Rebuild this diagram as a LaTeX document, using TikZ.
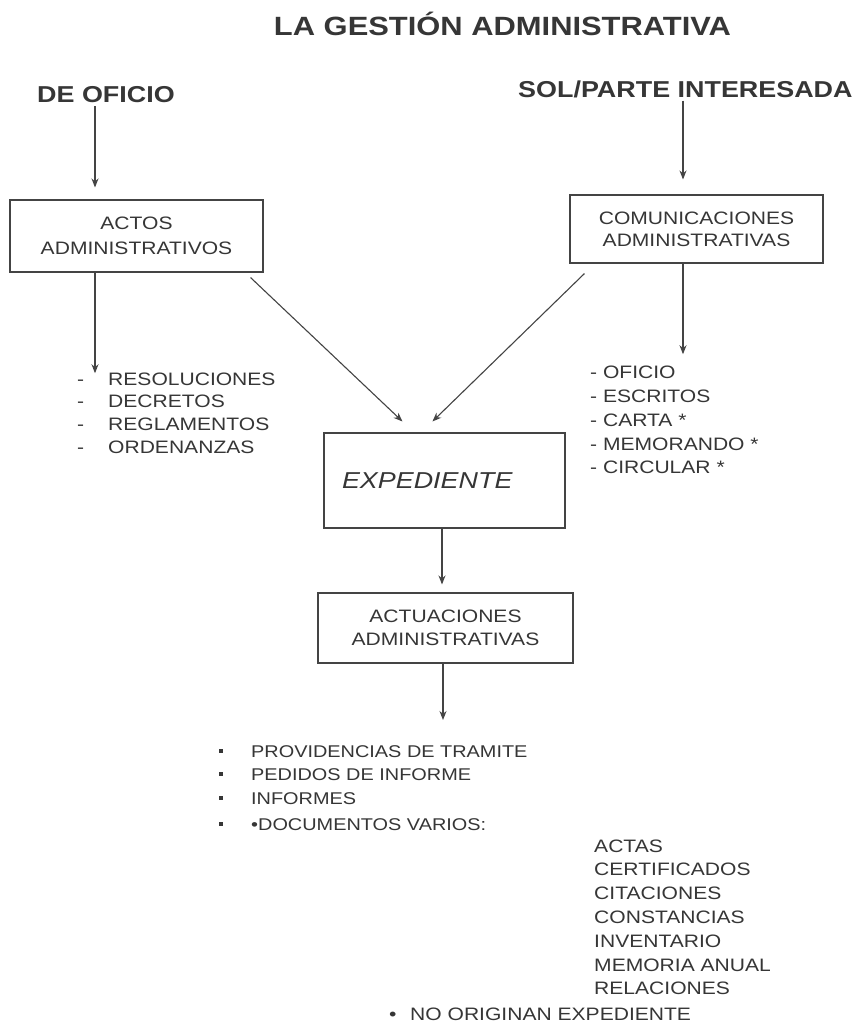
\documentclass[tikz,border=0pt]{standalone}
\usepackage{fontspec}
\newfontfamily\scanfont[FakeStretch=1.17]{Liberation Sans}
\usetikzlibrary{arrows.meta,calc}
\definecolor{ink}{HTML}{363636}
\definecolor{rulec}{HTML}{444444}
\begin{document}
\begin{tikzpicture}[x=1pt,y=-1pt,
  txt/.style={font=\scanfont\fontsize{18}{22}\selectfont, text=ink, inner sep=0pt, anchor=base west},
  small/.style={font=\scanfont\fontsize{17}{22}\selectfont, text=ink, inner sep=0pt, anchor=base west},
  head/.style={font=\scanfont\bfseries\fontsize{23}{28}\selectfont, text=ink, inner sep=0pt, anchor=base west},
  boxnode/.style={draw=rulec, line width=1.1pt, inner sep=0pt, align=center, text=ink},
  arr/.style={draw=rulec, line width=1.1pt, -{Stealth[length=9pt,width=7pt]}},
  sq/.style={fill=ink, minimum size=4.5pt, inner sep=0pt}
]
\fill[white] (0,0) rectangle (860,1028);
\useasboundingbox (0,0) rectangle (860,1028);

% title and headings
\node[font=\scanfont\bfseries\fontsize{26.4}{30}\selectfont, text=ink, inner sep=0pt, anchor=base] (title) at (502.5,35) {LA GESTIÓN ADMINISTRATIVA};
\node[head] (deof) at (37,102) {DE OFICIO};
\node[head] (sol) at (518,97) {SOL/PARTE INTERESADA};

% boxes
\node[boxnode, minimum width=253pt, minimum height=72pt, font=\scanfont\fontsize{18}{25}\selectfont] (actos) at (136.5,236) {ACTOS\\ADMINISTRATIVOS};
\node[boxnode, minimum width=253pt, minimum height=68pt, font=\scanfont\fontsize{18}{22}\selectfont] (com) at (696.5,229) {COMUNICACIONES\\ADMINISTRATIVAS};
\node[boxnode, minimum width=241pt, minimum height=95pt, text width=205pt, align=left, inner xsep=18pt, font=\scanfont\itshape\fontsize{23}{28}\selectfont] (exp) at (444.5,480.5) {EXPEDIENTE};
\node[boxnode, minimum width=255pt, minimum height=70pt, font=\scanfont\fontsize{18}{23}\selectfont] (act) at (445.5,628) {ACTUACIONES\\ADMINISTRATIVAS};

% left list
\node[txt] (d1) at (77,385) {-};
\node[txt] (d2) at (77,407) {-};
\node[txt] (d3) at (77,430) {-};
\node[txt] (d4) at (77,453) {-};
\node[txt] (res) at (108,385) {RESOLUCIONES};
\node[txt] (dec) at (108,407) {DECRETOS};
\node[txt] (reg) at (108,430) {REGLAMENTOS};
\node[txt] (ord) at (108,453) {ORDENANZAS};

% right list
\node[txt] (ofi) at (590,378) {- OFICIO};
\node[txt] (esc) at (590,402) {- ESCRITOS};
\node[txt] (car) at (590,426) {- CARTA *};
\node[txt] (mem) at (590,450) {- MEMORANDO *};
\node[txt] (cir) at (590,473) {- CIRCULAR *};

% bullet list
\node[sq] (b1) at (221,751) {};
\node[sq] (b2) at (221,774) {};
\node[sq] (b3) at (221,798) {};
\node[sq] (b4) at (221,824) {};
\node[small] (prov) at (251,757) {PROVIDENCIAS DE TRAMITE};
\node[small] (ped) at (251,780) {PEDIDOS DE INFORME};
\node[small] (inf) at (251,804) {INFORMES};
\node[small] (doc) at (251,830) {•DOCUMENTOS VARIOS:};

% documentos varios
\node[txt] (actas) at (594,852) {ACTAS};
\node[txt] (cert) at (594,875.8) {CERTIFICADOS};
\node[txt] (cita) at (594,899.6) {CITACIONES};
\node[txt] (cons) at (594,923.4) {CONSTANCIAS};
\node[txt] (inv) at (594,947.2) {INVENTARIO};
\node[txt] (memo) at (594,971) {MEMORIA ANUAL};
\node[txt] (rel) at (594,994.8) {RELACIONES};
\node[txt] (nob) at (389,1020) {•};
\node[txt] (noor) at (410,1020) {NO ORIGINAN EXPEDIENTE};

% connectors
\coordinate (xL) at (95,0);
\coordinate (xR) at (683,0);
\coordinate (xE) at (442,0);
\coordinate (xA) at (443,0);
\coordinate (actend) at (443,720);
\draw[arr, shorten <=4pt, shorten >=12pt] (deof.south -| xL) -- (actos.north -| xL);
\draw[arr, shorten <=3pt, shorten >=15pt] (sol.south -| xR) -- (com.north -| xR);
\draw[arr, shorten >=-1pt] (actos.south -| xL) -- (res.north -| xL);
\draw[arr, shorten >=11pt] (com.south -| xR) -- (ofi.north -| xR);
\draw[arr] ($(actos.south east)+(-13,5)$) -- ($(exp.north west)+(79,-11)$);
\draw[arr] ($(com.south west)+(15,10)$) -- ($(exp.north west)+(109,-11)$);
\draw[arr, shorten >=8pt] (exp.south -| xE) -- (act.north -| xE);
\draw[arr] (act.south -| xA) -- (actend);
\end{tikzpicture}
\end{document}
